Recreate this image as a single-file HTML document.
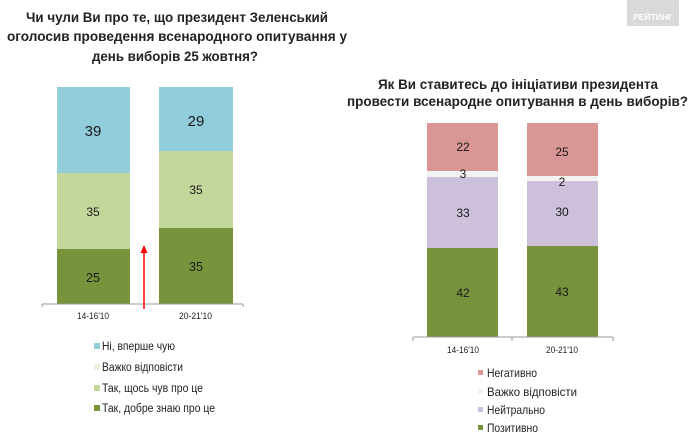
<!DOCTYPE html>
<html><head><meta charset="utf-8"><style>
html,body{margin:0;padding:0;background:#fff;}
svg{display:block;}
text{font-family:"Liberation Sans",sans-serif;}
</style></head><body>
<svg width="690" height="436" viewBox="0 0 690 436" xmlns="http://www.w3.org/2000/svg">
<rect width="690" height="436" fill="#ffffff"/>
<!-- logo -->
<rect x="627" y="0" width="52" height="26" fill="#d9d9d9"/>
<text x="653" y="20" font-size="8" font-weight="bold" fill="#fff" text-anchor="middle" textLength="40" lengthAdjust="spacingAndGlyphs">РЕЙТИНГ</text>

<!-- left title -->
<g font-weight="bold" font-size="13.5" fill="#222">
<text x="26" y="22" textLength="302" lengthAdjust="spacingAndGlyphs">Чи чули Ви про те, що президент Зеленський</text>
<text x="7" y="41" textLength="340" lengthAdjust="spacingAndGlyphs">оголосив проведення  всенародного опитування у</text>
<text x="92" y="61" textLength="166" lengthAdjust="spacingAndGlyphs">день виборів 25 жовтня?</text>
</g>

<!-- left bars -->
<rect x="57" y="87" width="73" height="86" fill="#92cddc"/>
<rect x="57" y="173" width="73" height="76" fill="#c4d79b"/>
<rect x="57" y="249" width="73" height="55" fill="#77933c"/>
<rect x="159" y="87" width="74" height="64" fill="#92cddc"/>
<rect x="159" y="151" width="74" height="77" fill="#c4d79b"/>
<rect x="159" y="228" width="74" height="76" fill="#77933c"/>
<g fill="#1a1a1a" text-anchor="middle">
<text x="93" y="136" font-size="15">39</text>
<text x="196" y="126" font-size="15">29</text>
<text x="93" y="216" font-size="12">35</text>
<text x="196" y="194" font-size="12">35</text>
<text x="93" y="282" font-size="12.5">25</text>
<text x="196" y="271" font-size="12.5">35</text>
</g>
<line x1="42" y1="304" x2="243" y2="304" stroke="#999" stroke-width="1"/>
<line x1="42" y1="304" x2="42" y2="307" stroke="#999"/>
<line x1="243" y1="304" x2="243" y2="307" stroke="#999"/>
<!-- red arrow -->
<line x1="144" y1="252" x2="144" y2="309" stroke="#ff0000" stroke-width="1.5"/>
<polygon points="144,245 140.5,253 147.5,253" fill="#ff0000"/>
<g font-size="9" fill="#222">
<text x="77" y="319" textLength="32" lengthAdjust="spacingAndGlyphs">14-16'10</text>
<text x="179" y="319" textLength="33" lengthAdjust="spacingAndGlyphs">20-21'10</text>
</g>
<!-- left legend -->
<rect x="94" y="343" width="6" height="6" fill="#92cddc"/>
<rect x="94" y="364" width="6" height="6" fill="#ebf1de"/>
<rect x="94" y="385" width="6" height="6" fill="#c4d79b"/>
<rect x="94" y="405" width="6" height="6" fill="#77933c"/>
<g font-size="11.5" fill="#222">
<text x="102" y="350" textLength="73" lengthAdjust="spacingAndGlyphs">Ні, вперше чую</text>
<text x="102" y="371" textLength="81" lengthAdjust="spacingAndGlyphs">Важко відповісти</text>
<text x="102" y="392" textLength="101" lengthAdjust="spacingAndGlyphs">Так, щось чув про це</text>
<text x="102" y="412" textLength="113" lengthAdjust="spacingAndGlyphs">Так, добре знаю про це</text>
</g>

<!-- right title -->
<g font-weight="bold" font-size="13.5" fill="#222">
<text x="378" y="89" textLength="280" lengthAdjust="spacingAndGlyphs">Як Ви ставитесь до ініціативи президента</text>
<text x="347" y="106" textLength="341" lengthAdjust="spacingAndGlyphs">провести всенародне опитування в день виборів?</text>
</g>

<!-- right bars -->
<rect x="427" y="123" width="71" height="48" fill="#da9694"/>
<rect x="427" y="171" width="71" height="6" fill="#f2f2f2"/>
<rect x="427" y="177" width="71" height="71" fill="#ccc0da"/>
<rect x="427" y="248" width="71" height="89" fill="#77933c"/>
<rect x="527" y="123" width="71" height="53" fill="#da9694"/>
<rect x="527" y="176" width="71" height="5" fill="#f2f2f2"/>
<rect x="527" y="181" width="71" height="65" fill="#ccc0da"/>
<rect x="527" y="246" width="71" height="91" fill="#77933c"/>
<g fill="#1a1a1a" text-anchor="middle" font-size="12">
<text x="463" y="151">22</text>
<text x="562" y="156">25</text>
<text x="463" y="178">3</text>
<text x="562" y="186">2</text>
<text x="463" y="217">33</text>
<text x="562" y="216">30</text>
<text x="463" y="297">42</text>
<text x="562" y="296">43</text>
</g>
<line x1="413" y1="337" x2="613" y2="337" stroke="#999"/>
<line x1="413" y1="337" x2="413" y2="341" stroke="#999"/>
<line x1="512" y1="337" x2="512" y2="341" stroke="#999"/>
<line x1="613" y1="337" x2="613" y2="341" stroke="#999"/>
<g font-size="9" fill="#222">
<text x="447" y="353" textLength="32" lengthAdjust="spacingAndGlyphs">14-16'10</text>
<text x="546" y="353" textLength="32" lengthAdjust="spacingAndGlyphs">20-21'10</text>
</g>
<!-- right legend -->
<rect x="478" y="370" width="5" height="5" fill="#da9694"/>
<rect x="478" y="389" width="5" height="5" fill="#f2f2f2"/>
<rect x="478" y="407" width="5" height="5" fill="#ccc0da"/>
<rect x="478" y="425" width="5" height="5" fill="#77933c"/>
<g font-size="12" fill="#222">
<text x="487" y="377" textLength="50" lengthAdjust="spacingAndGlyphs">Негативно</text>
<text x="487" y="396" textLength="90" lengthAdjust="spacingAndGlyphs">Важко відповісти</text>
<text x="487" y="414" textLength="58" lengthAdjust="spacingAndGlyphs">Нейтрально</text>
<text x="487" y="432" textLength="51" lengthAdjust="spacingAndGlyphs">Позитивно</text>
</g>
</svg>
</body></html>
